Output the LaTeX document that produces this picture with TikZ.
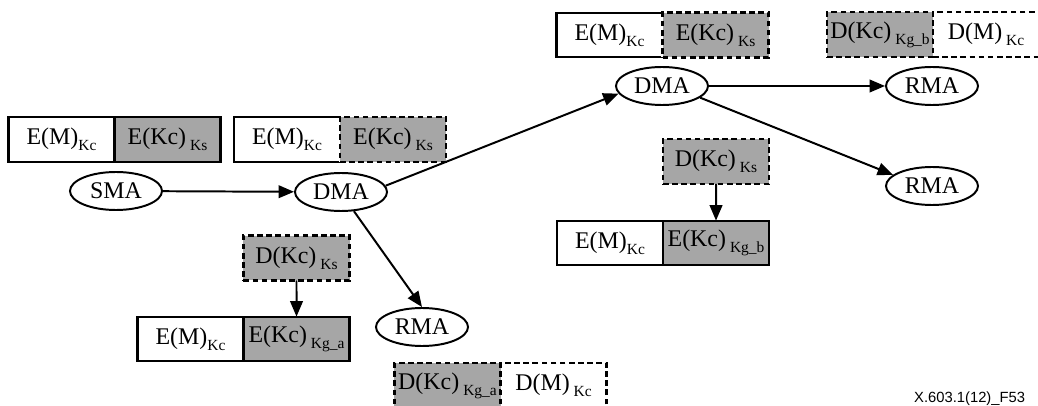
\documentclass[tikz,border=0pt]{standalone}
\usepackage{fontspec}
\setmainfont{Liberation Serif}
\newfontfamily\figfont{Liberation Sans}
\usepackage{tikz}
\usetikzlibrary{shapes.geometric,arrows.meta,positioning}
\definecolor{keygray}{RGB}{166,166,166}
\newcommand{\ksub}[1]{\raisebox{-0.55ex}{\fontsize{11}{11}\selectfont #1}}

\begin{document}
\begin{tikzpicture}[x=0.025cm, y=-0.025cm,
  agent/.style={draw, ellipse, line width=1.4pt, minimum width=2.3cm, minimum height=0.95cm,
    inner sep=0pt, font=\fontsize{17}{18}\selectfont},
  keypart/.style={minimum width=2.65cm, minimum height=1.12cm, inner sep=0pt, outer sep=0pt,
    font=\fontsize{17}{18}\selectfont},
  clearbox/.style={keypart, draw, fill=white, line width=1.5pt},
  graybox/.style={keypart, draw, fill=keygray, line width=1.5pt},
  graydash/.style={keypart, preaction={draw=white, solid, line width=1.8pt}, draw, fill=keygray,
    line width=1.8pt, dash pattern=on 4pt off 2.5pt},
  cleardash/.style={keypart, draw, fill=white, line width=1.8pt, dash pattern=on 4pt off 2.5pt},
  flow/.style={-{Triangle[length=11pt,width=9pt]}, line width=1.4pt}]
  \useasboundingbox (0,0) rectangle (1038,406);

  % agents
  \node[agent] (sma)  at (116,191) {SMA};
  \node[agent] (dma1) at (341,192) {DMA};
  \node[agent] (dma2) at (662,86)  {DMA};
  \node[agent] (rma1) at (932,86)  {RMA};
  \node[agent] (rma2) at (932,186) {RMA};
  \node[agent] (rma3) at (422,327) {RMA};

  % messages
  \node[clearbox] (msga1) at (61.5,139.5) {E(M)\ksub{Kc}};
  \node[graybox, right=0pt of msga1] (msga2) {E(Kc)\,\ksub{Ks}};
  \node[clearbox] (msgb1) at (287,139.5) {E(M)\ksub{Kc}};
  \node[graydash, right=0pt of msgb1] (msgb2) {E(Kc)\,\ksub{Ks}};
  \node[clearbox] (msgc1) at (609.5,35) {E(M)\ksub{Kc}};
  \node[graydash, right=0pt of msgc1] (msgc2) {E(Kc)\,\ksub{Ks}};
  \node[graydash] (msgd1) at (880,34.5) {D(Kc)\,\ksub{Kg\_b}};
  \node[cleardash, right=0pt of msgd1] (msgd2) {D(M)\,\ksub{Kc}};
  \node[graydash] (deck1) at (716,161.5) {D(Kc)\,\ksub{Ks}};
  \node[clearbox] (msgf1) at (610,243) {E(M)\ksub{Kc}};
  \node[graybox, right=0pt of msgf1] (msgf2) {E(Kc)\,\ksub{Kg\_b}};
  \node[graydash] (deck2) at (296.5,258) {D(Kc)\,\ksub{Ks}};
  \node[clearbox] (msgh1) at (190.5,339) {E(M)\ksub{Kc}};
  \node[graybox, right=0pt of msgh1] (msgh2) {E(Kc)\,\ksub{Kg\_a}};
  \node[graydash] (msgi1) at (447.5,385.5) {D(Kc)\,\ksub{Kg\_a}};
  \node[cleardash, right=0pt of msgi1] (msgi2) {D(M)\,\ksub{Kc}};

  % flows
  \draw[flow] (sma) -- (dma1);
  \draw[flow] (dma1.8) -- (dma2.190);
  \draw[flow] (dma1.304) -- (rma3.north);
  \draw[flow] (dma2) -- (rma1);
  \draw[flow] (dma2.-17) -- (rma2.164);
  \draw[flow] (deck1) -- (msgf2);
  \draw[flow] (deck2) -- (msgh2);

  \node[anchor=base east, font=\figfont\fontsize{10.5}{12}\selectfont] (figno) at (1030,402)
    {X.603.1(12)\_F53};
\end{tikzpicture}
\end{document}
